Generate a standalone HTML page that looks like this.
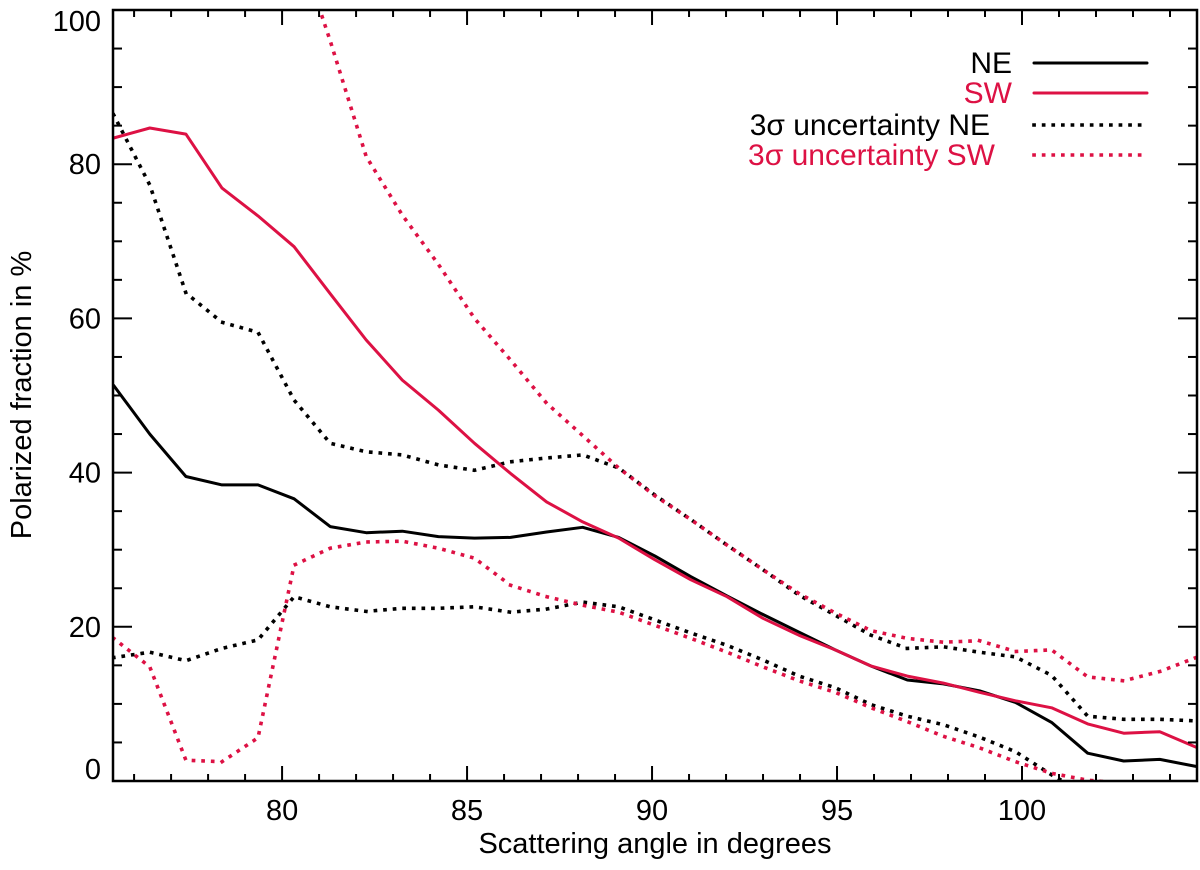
<!DOCTYPE html>
<html><head><meta charset="utf-8"><style>
body{margin:0;background:#fff;}
svg text{font-family:"Liberation Sans",Helvetica,sans-serif;}
</style></head><body>
<svg id="chart" width="1200" height="865" xmlns="http://www.w3.org/2000/svg"></svg>
<script>
const xStart = 75.45, xStep = 0.975;
const neSolid = [51.3,45,39.5,38.4,38.4,36.6,33,32.2,32.4,31.7,31.5,31.6,32.3,32.9,31.6,29.2,26.5,24,21.6,19.3,17,14.9,13.1,12.6,11.7,10.2,7.6,3.6,2.6,2.8,1.9];
const swSolid = [83.4,84.7,83.9,76.9,73.3,69.3,63.2,57.2,52,48.1,43.8,39.9,36.2,33.6,31.5,28.7,26.1,23.9,21.1,18.9,17,14.9,13.6,12.7,11.5,10.4,9.5,7.4,6.2,6.4,4.4];
const neUpper = [86.4,77.3,63.3,59.5,58.2,49.4,43.8,42.7,42.3,41,40.3,41.4,41.9,42.3,40.6,37.1,33.9,30.6,27.4,24.1,21.5,18.9,17.2,17.4,16.7,16.1,13.7,8.4,8,8,7.8];
const neLower = [16,16.7,15.6,17.2,18.3,23.9,22.6,22,22.4,22.4,22.6,21.9,22.3,23.2,22.6,20.9,19.2,17.6,15.7,13.6,12.1,9.9,8.4,7.3,5.7,3.8,0.8,-1.8,-4,-6,-8];
const swUpper = [200,175,155,140,125,110,96,81,73.4,67,60,54.6,49,44.8,40.6,37,33.9,30.6,27.4,24.3,21.8,19.5,18.5,18,18.2,16.8,17,13.5,13,14.2,16];
const swLower = [18.5,14.8,2.7,2.5,5.6,28,30.2,31,31.1,30.2,28.9,25.4,23.9,22.8,21.9,20.2,18.5,16.7,14.8,13,11.5,9.5,7.7,5.8,4.3,2.5,1,0.1,-0.3,-2,-4];
const xTicks = [80,85,90,95,100];
const yTicks = [0,20,40,60,80,100];

const L=113,R=1197,T=10,B=781, xMin=75.43, xMax=104.73, yMin=0, yMax=100;
const sx=v=>L+(v-xMin)/(xMax-xMin)*(R-L);
const sy=v=>B-(v-yMin)/(yMax-yMin)*(B-T);
const svg=document.getElementById('chart');
const NS='http://www.w3.org/2000/svg';
function mk(tag,attrs,parent){const e=document.createElementNS(NS,tag);for(const k in attrs)e.setAttribute(k,attrs[k]);(parent||svg).appendChild(e);return e;}
const RED='#dd1144';
const defs=mk('defs',{});
const cp=mk('clipPath',{id:'plotclip'},defs);
mk('rect',{x:L,y:T,width:R-L,height:B-T},cp);
const g=mk('g',{'clip-path':'url(#plotclip)'});


function series(arr,color,dotted,name){
  const pts=arr.map((v,i)=>sx(xStart+i*xStep).toFixed(1)+','+sy(v).toFixed(1)).join(' ');
  const p=mk('polyline',{points:pts,fill:'none',stroke:color,'stroke-width':dotted?3.6:3,'stroke-dasharray':dotted?'0.1 9.5':'none','stroke-linecap':dotted?'square':'round','stroke-linejoin':'round'},g);
  
  
}
series(neUpper,'#000',true,'ne-upper-uncertainty');
series(neLower,'#000',true,'ne-lower-uncertainty');
series(swUpper,RED,true,'sw-upper-uncertainty');
series(swLower,RED,true,'sw-lower-uncertainty');
series(neSolid,'#000',false,'ne-line');
series(swSolid,RED,false,'sw-line');
const fr=mk('rect',{x:L,y:T,width:R-L,height:B-T,fill:'none',stroke:'#000','stroke-width':2.5});


for(let v=76;v<=104;v++){
  const major=v%5===0, len=major?15:7, x=sx(v);
  mk('line',{x1:x,x2:x,y1:B,y2:B-len,stroke:'#000','stroke-width':2});
  mk('line',{x1:x,x2:x,y1:T,y2:T+len,stroke:'#000','stroke-width':2});
}
xTicks.forEach(v=>{const t=mk('text',{x:sx(v),y:B+39,'text-anchor':'middle','font-size':29});t.textContent=v;

});
for(let v=5;v<100;v+=5){
  const major=v%20===0, len=major?19:9, y=sy(v);
  mk('line',{x1:L,x2:L+len,y1:y,y2:y,stroke:'#000','stroke-width':2});
  mk('line',{x1:R,x2:R-len,y1:y,y2:y,stroke:'#000','stroke-width':2});
}
yTicks.forEach(v=>{let y=sy(v)+10; if(v===100)y=T+21; if(v===0)y=B-2;
const t=mk('text',{x:L-12,y:y,'text-anchor':'end','font-size':29});t.textContent=v;

});
const xt=mk('text',{x:655,y:853,'text-anchor':'middle','font-size':29});xt.textContent='Scattering angle in degrees';


const yt=mk('text',{x:0,y:0,'text-anchor':'middle','font-size':29,transform:'translate(31,395) rotate(-90)'});yt.textContent='Polarized fraction in %';


const leg=[['NE','#000',false,63,1012],['SW',RED,false,93,1012],['3σ uncertainty NE','#000',true,125,990],['3σ uncertainty SW',RED,true,155,995]];
leg.forEach(([lab,c,d,y,xe])=>{
  const t=mk('text',{x:xe,y:y+10,'text-anchor':'end','font-size':30,fill:c});t.textContent=lab;
  
  
  mk('line',{x1:1034,x2:1147,y1:y,y2:y,stroke:c,'stroke-width':d?3.6:3,'stroke-dasharray':d?'0.1 9.5':'none','stroke-linecap':d?'square':'round'});
});
</script>
</body></html>
